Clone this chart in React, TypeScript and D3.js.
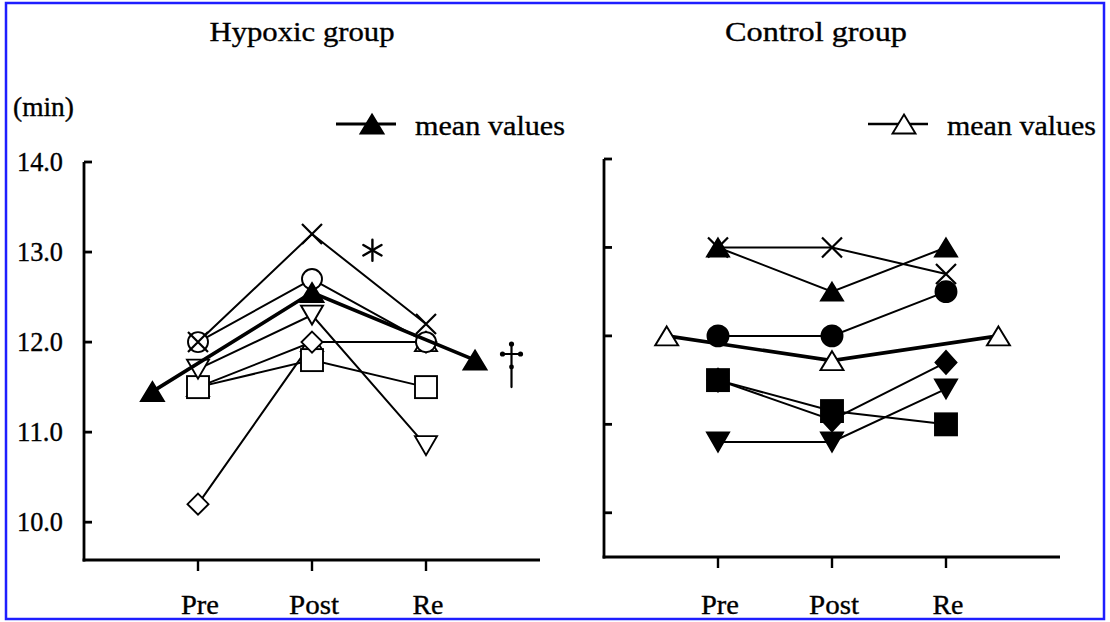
import * as d3 from 'd3';

// categories
const phases = ['Pre', 'Post', 'Re'];
const yTicks = [10, 11, 12, 13, 14];

// Hypoxic group (min), one array per subject
const hypoxicCross = [12.0, 13.2, 12.2];
const hypoxicCircle = [12.0, 12.7, 12.0];
const hypoxicTriUp = [11.5, 12.0, 12.0];
const hypoxicTriDown = [11.7, 12.3, 10.85];
const hypoxicDiamond = [10.2, 12.0, 12.0];
const hypoxicSquare = [11.5, 11.8, 11.5];
const hypoxicMean = [11.45, 12.55, 11.8];
const hypoxicMeanPos = [-0.4, 1, 2.43];

// Control group (min)
const controlCross = [13.0, 13.0, 12.7];
const controlTriUp = [13.0, 12.5, 13.0];
const controlCircle = [12.0, 12.0, 12.5];
const controlDiamond = [11.5, 11.05, 11.7];
const controlSquare = [11.5, 11.15, 11.0];
const controlTriDown = [10.8, 10.8, 11.4];
const controlMean = [12.0, 11.72, 12.0];
const controlMeanPos = [-0.45, 1, 2.46];

type Shape = 'cross' | 'circle' | 'square' | 'diamond' | 'triUp' | 'triDown';

interface Series {
  values: number[];
  shape: Shape;
}

const FONT = 'Liberation Serif';
// scanned text looks heavier, so give glyphs a thin outline
const ts = { fontFamily: FONT, stroke: '#000', strokeWidth: 0.35 };

function Marker({ shape, x, y, filled, big }: { shape: Shape; x: number; y: number; filled: boolean; big?: boolean }) {
  const fill = filled ? '#000' : '#fff';
  const sw = 1.9;
  switch (shape) {
    case 'cross': {
      const h = 10;
      return (
        <path
          d={`M${x - h},${y - h}L${x + h},${y + h}M${x - h},${y + h}L${x + h},${y - h}`}
          stroke="#000"
          strokeWidth={2.2}
          fill="none"
        />
      );
    }
    case 'circle':
      return <circle cx={x} cy={y} r={filled ? 10.5 : 10} fill={fill} stroke="#000" strokeWidth={sw} />;
    case 'square':
      return <rect x={x - 11} y={y - 11} width={22} height={22} fill={fill} stroke="#000" strokeWidth={sw} />;
    case 'diamond': {
      const w = 10.5;
      const h = filled ? 11.5 : 10.5;
      return <path d={`M${x},${y - h}L${x + w},${y}L${x},${y + h}L${x - w},${y}Z`} fill={fill} stroke="#000" strokeWidth={sw} />;
    }
    case 'triUp': {
      const w = big ? 11.5 : 11;
      const h = big ? 9.5 : 9;
      return <path d={`M${x},${y - h}L${x + w},${y + h}L${x - w},${y + h}Z`} fill={fill} stroke="#000" strokeWidth={sw} />;
    }
    case 'triDown': {
      const w = 11;
      const h = 9.5;
      return <path d={`M${x - w},${y - h}L${x + w},${y - h}L${x},${y + h}Z`} fill={fill} stroke="#000" strokeWidth={sw} />;
    }
  }
}

interface PanelProps {
  title: string;
  titleX: number;
  titleWidth: number;
  xRange: [number, number];
  yRange: [number, number];
  yMin: number;
  series: Series[];
  filled: boolean;
  mean: number[];
  meanPos: number[];
  meanFilled: boolean;
  showTickLabels: boolean;
  legendX: number;
  legendTextWidth: number;
  legendLineWidth: number;
  labelWidths: number[];
}

function Panel(p: PanelProps) {
  const x = d3.scaleLinear().domain([-1, 3]).range(p.xRange);
  const y = d3.scaleLinear().domain([p.yMin, 14]).range(p.yRange);
  const line = d3
    .line<number>()
    .x((_d, i) => x(i))
    .y((d) => y(d));
  const meanLine = d3
    .line<number>()
    .x((_d, i) => x(p.meanPos[i]))
    .y((d) => y(d));
  const ax = x(-1);
  const ay = y(p.yMin);

  return (
    <g>
      <text x={p.titleX} y={41} textAnchor="middle" fontSize={28} style={ts} textLength={p.titleWidth} lengthAdjust="spacingAndGlyphs">
        {p.title}
      </text>

      {/* axes */}
      <line x1={ax} y1={y(14)} x2={ax} y2={ay + 1.5} stroke="#000" strokeWidth={2.8} />
      <line x1={ax - 1.4} y1={ay} x2={x(3)} y2={ay} stroke="#000" strokeWidth={3.2} />
      {yTicks.map((t) => (
        <g key={t}>
          <line x1={ax} y1={y(t)} x2={ax + 8} y2={y(t)} stroke="#000" strokeWidth={2.8} />
          {p.showTickLabels && (
            <text x={63} y={y(t) + 9} textAnchor="end" fontSize={27} style={ts} textLength={46} lengthAdjust="spacingAndGlyphs">
              {t.toFixed(1)}
            </text>
          )}
        </g>
      ))}
      {phases.map((ph, i) => (
        <g key={ph}>
          <line x1={x(i)} y1={ay} x2={x(i)} y2={ay + 11} stroke="#000" strokeWidth={2.4} />
          <text
            x={x(i) + 2}
            y={614}
            textAnchor="middle"
            fontSize={27}
            style={ts}
            textLength={p.labelWidths[i]}
            lengthAdjust="spacingAndGlyphs"
          >
            {ph}
          </text>
        </g>
      ))}

      {/* subject lines */}
      {p.series.map((s, k) => (
        <path key={'l' + k} d={line(s.values) ?? ''} fill="none" stroke="#000" strokeWidth={2} />
      ))}
      {p.series.map((s, k) => (
        <g key={'m' + k}>
          {s.values.map((v, i) => (
            <Marker key={i} shape={s.shape} x={x(i)} y={y(v)} filled={p.filled} />
          ))}
        </g>
      ))}

      {/* mean */}
      <path d={meanLine(p.mean) ?? ''} fill="none" stroke="#000" strokeWidth={3.6} />
      {p.mean.map((v, i) => (
        <Marker key={'mean' + i} shape="triUp" x={x(p.meanPos[i])} y={y(v)} filled={p.meanFilled} big />
      ))}

      {/* legend */}
      <line x1={p.legendX} y1={124} x2={p.legendX + 60} y2={124} stroke="#000" strokeWidth={p.legendLineWidth} />
      <Marker shape="triUp" x={p.legendX + 36} y={124} filled={p.meanFilled} big />
      <text
        x={p.legendX + 79}
        y={135}
        fontSize={28}
        style={ts}
        textLength={p.legendTextWidth}
        lengthAdjust="spacingAndGlyphs"
      >
        mean values
      </text>
    </g>
  );
}

export default function App() {
  const hypoxicSeries: Series[] = [
    { values: hypoxicTriUp, shape: 'triUp' },
    { values: hypoxicSquare, shape: 'square' },
    { values: hypoxicDiamond, shape: 'diamond' },
    { values: hypoxicTriDown, shape: 'triDown' },
    { values: hypoxicCircle, shape: 'circle' },
    { values: hypoxicCross, shape: 'cross' },
  ];
  const controlSeries: Series[] = [
    { values: controlCross, shape: 'cross' },
    { values: controlTriUp, shape: 'triUp' },
    { values: controlCircle, shape: 'circle' },
    { values: controlDiamond, shape: 'diamond' },
    { values: controlSquare, shape: 'square' },
    { values: controlTriDown, shape: 'triDown' },
  ];

  // annotation positions in data units of the hypoxic panel
  const ax = d3.scaleLinear().domain([-1, 3]).range([84, 540]);
  const ay = d3.scaleLinear().domain([9.58, 14]).range([560, 162]);
  const starX = ax(1.53);
  const starY = ay(13.02);
  const spokes = [90, 30, -30];
  const daggerX = ax(2.75);
  const daggerTop = ay(11.99);
  const daggerBottom = ay(11.5);

  return (
    <>
      <style>{'body{margin:0}'}</style>
      <svg width={1110} height={622} style={{ display: 'block', background: '#fff' }}>
        <rect x={6} y={3} width={1098} height={616} fill="none" stroke="#1e1eff" strokeWidth={2.5} />
        <text x={13} y={116} fontSize={27} style={ts} textLength={61} lengthAdjust="spacingAndGlyphs">
          (min)
        </text>
        <Panel
          title="Hypoxic group"
          titleX={302}
          titleWidth={185}
          xRange={[84, 540]}
          yRange={[560, 162]}
          yMin={9.58}
          series={hypoxicSeries}
          filled={false}
          mean={hypoxicMean}
          meanPos={hypoxicMeanPos}
          meanFilled={true}
          showTickLabels={true}
          legendX={336}
          legendTextWidth={150}
          legendLineWidth={3}
          labelWidths={[38, 50, 31]}
        />
        <Panel
          title="Control group"
          titleX={816}
          titleWidth={182}
          xRange={[604, 1060]}
          yRange={[557, 159]}
          yMin={9.5}
          series={controlSeries}
          filled={true}
          mean={controlMean}
          meanPos={controlMeanPos}
          meanFilled={false}
          showTickLabels={false}
          legendX={868}
          legendTextWidth={149}
          legendLineWidth={2.4}
          labelWidths={[38, 50, 31]}
        />
        {/* significance marks */}
        <g stroke="#000" strokeWidth={2.4} strokeLinecap="round">
          {spokes.map((a) => {
            const r = (a * Math.PI) / 180;
            const dx = Math.cos(r) * 10.5;
            const dy = Math.sin(r) * 10.5;
            return <line key={a} x1={starX - dx} y1={starY - dy} x2={starX + dx} y2={starY + dy} />;
          })}
        </g>
        <g stroke="#000" strokeWidth={2.2} strokeLinecap="round">
          <line x1={daggerX} y1={daggerTop} x2={daggerX} y2={daggerBottom} />
          <line x1={daggerX - 9} y1={daggerTop + 11} x2={daggerX + 9} y2={daggerTop + 11} />
        </g>
        <g fill="#000">
          <circle cx={daggerX} cy={daggerTop + 1} r={2.6} />
          <circle cx={daggerX - 9} cy={daggerTop + 11} r={2.6} />
          <circle cx={daggerX + 9} cy={daggerTop + 11} r={2.6} />
          <circle cx={daggerX} cy={daggerTop + 24} r={2.4} />
        </g>
      </svg>
    </>
  );
}
